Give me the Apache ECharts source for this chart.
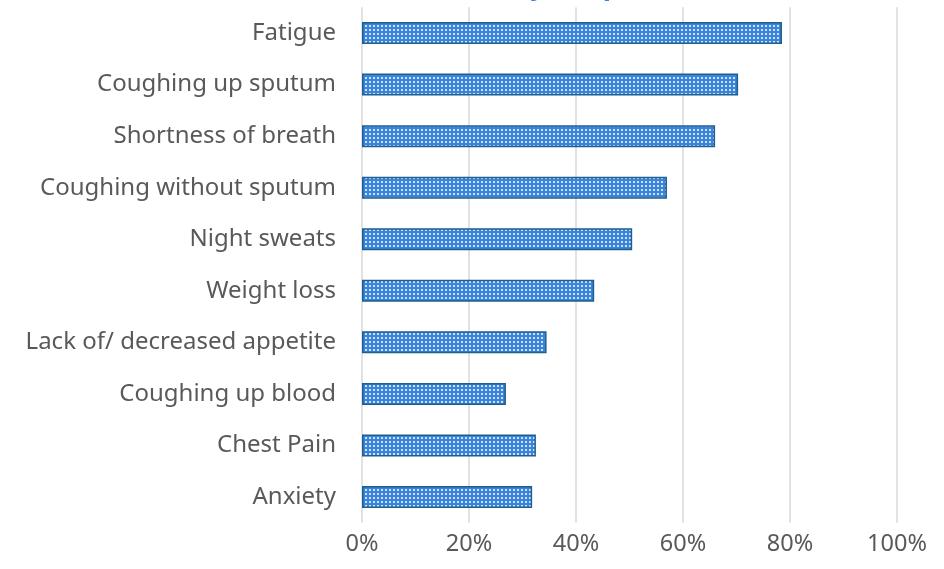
<!DOCTYPE html>
<html><head><meta charset="utf-8">
<script src="https://cdn.jsdelivr.net/npm/echarts@6/dist/echarts.min.js"></script>
<style>html,body{margin:0;padding:0;background:#fff}#c{width:944px;height:569px}</style>
</head><body><div id="c"></div>
<script>
const categories = ["Fatigue","Coughing up sputum","Shortness of breath","Coughing without sputum","Night sweats","Weight loss","Lack of/ decreased appetite","Coughing up blood","Chest Pain","Anxiety"];
const values = [78.5, 70.3, 66.0, 57.0, 50.5, 43.4, 34.5, 26.9, 32.5, 31.8];
const xTicks = [0, 20, 40, 60, 80, 100];
const titleText = "Survey Responses";

const tile = document.createElement('canvas');
tile.width = 4; tile.height = 4;
const tc = tile.getContext('2d');
tc.fillStyle = '#3a84dc'; tc.fillRect(0,0,4,4);
tc.fillStyle = 'rgba(255,255,255,0.75)'; tc.fillRect(1,1,2,2);

const chart = echarts.init(document.getElementById('c'), null, {renderer:'canvas'});
chart.setOption({
  animation:false,
  title:{text:titleText,left:447,top:-33,textStyle:{color:'#3a82e2',fontSize:28,fontWeight:'bold',fontFamily:'Noto Sans'}},
  grid:{left:362,right:47,top:7.25,bottom:46.25,containLabel:false},
  xAxis:{type:'value',min:0,max:100,interval:20,
    axisLine:{show:false},axisTick:{show:false},
    splitLine:{lineStyle:{color:'#d9d9d9',width:1.5}},
    axisLabel:{formatter:v=>xTicks.includes(v)?v+'%':'',color:'#595959',fontSize:23.5,fontFamily:'Noto Sans',margin:10}},
  yAxis:{type:'category',data:categories,inverse:true,
    axisLine:{show:false},axisTick:{show:false},
    axisLabel:{color:'#595959',fontSize:24,fontFamily:'Noto Sans',margin:26}},
  series:[{type:'bar',data:values,barWidth:22,
    itemStyle:{color:{image:tile,repeat:'repeat'},borderColor:'#1d5f8e',borderWidth:1.5}}]
});
</script></body></html>
